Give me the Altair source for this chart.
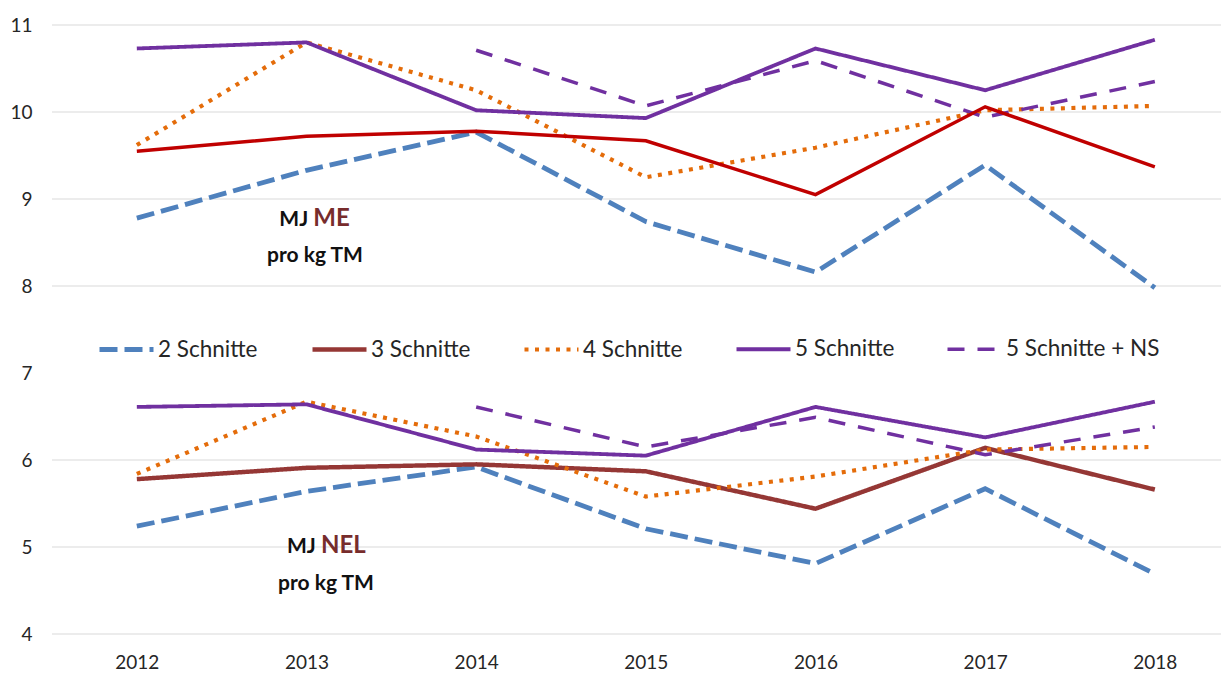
import altair as alt
import pandas as pd

years = [2012, 2013, 2014, 2015, 2016, 2017, 2018]
series_names = ["2 Schnitte", "3 Schnitte", "4 Schnitte", "5 Schnitte", "5 Schnitte + NS"]

# MJ ME pro kg TM
me_2 = [8.78, 9.33, 9.77, 8.74, 8.16, 9.39, 7.98]
me_3 = [9.55, 9.72, 9.78, 9.67, 9.05, 10.06, 9.37]
me_4 = [9.62, 10.80, 10.25, 9.25, 9.59, 10.02, 10.07]
me_5 = [10.73, 10.80, 10.02, 9.93, 10.73, 10.25, 10.83]
me_5ns = [None, None, 10.71, 10.07, 10.59, 9.94, 10.35]

# MJ NEL pro kg TM
nel_2 = [5.24, 5.64, 5.92, 5.21, 4.81, 5.67, 4.69]
nel_3 = [5.78, 5.91, 5.95, 5.87, 5.44, 6.14, 5.66]
nel_4 = [5.84, 6.67, 6.27, 5.58, 5.81, 6.12, 6.15]
nel_5 = [6.61, 6.64, 6.12, 6.05, 6.61, 6.26, 6.67]
nel_5ns = [None, None, 6.61, 6.15, 6.49, 6.06, 6.38]

y_ticks = [4, 5, 6, 7, 8, 9, 10, 11]
grid_values = [4, 5, 6, 8, 9, 10, 11]

series_colors = ["#4F81BD", "#953735", "#E46C0A", "#7030A0", "#7030A0"]
series_dashes = [[18, 7], [1, 0], [4, 6.5], [1, 0], [17, 13]]
series_widths = [4.8, 3.5, 4.2, 3.5, 3.8]
me3_color = "#C00000"

ann_text = ["MJ", "ME", "pro kg TM", "MJ", "NEL", "pro kg TM"]
ann_x = [2013.01, 2013.04, 2013.05, 2013.055, 2013.085, 2013.115]
ann_y = [8.69, 8.69, 8.28, 4.93, 4.93, 4.51]
ann_kind = ["mj", "unit", "pro", "mj", "unit", "pro"]

rows = []
for panel, lists in (("ME", [me_2, me_3, me_4, me_5, me_5ns]),
                     ("NEL", [nel_2, nel_3, nel_4, nel_5, nel_5ns])):
    for name, vals in zip(series_names, lists):
        for yr, v in zip(years, vals):
            if v is not None:
                rows.append({"year": yr, "value": v, "series": name, "panel": panel})
df = pd.DataFrame(rows)
main_df = df[~((df.panel == "ME") & (df.series == "3 Schnitte"))]
red_df = df[(df.panel == "ME") & (df.series == "3 Schnitte")]

ann = pd.DataFrame({"year": ann_x, "value": ann_y, "text": ann_text, "kind": ann_kind})
grid_df = pd.DataFrame({"value": grid_values})

FONT = "Lato"
x_enc = alt.X("year:Q", title=None,
              scale=alt.Scale(domain=[2011.5, 2018.39], nice=False, zero=False),
              axis=alt.Axis(values=years, format="d", grid=False, domain=False, ticks=False,
                            labelFont=FONT, labelFontSize=19, labelColor="#262626",
                            labelPadding=19))
y_enc = alt.Y("value:Q", title=None,
              scale=alt.Scale(domain=[4, 11], nice=False, zero=False),
              axis=alt.Axis(values=y_ticks, grid=False, domain=False, ticks=False,
                            labelFont=FONT, labelFontSize=19, labelColor="#262626",
                            labelPadding=20))

leg = alt.Legend(title=None, orient="none", legendX=45, legendY=295,
                 direction="horizontal", columns=5, columnPadding=45,
                 symbolType="stroke", symbolSize=2916, symbolStrokeWidth=4.5,
                 labelFont=FONT, labelFontSize=22.5, labelOffset=2,
                 labelColor="#262626", labelLimit=400, padding=0)

grid = alt.Chart(grid_df).mark_rule(color="#D9D9D9", strokeWidth=1).encode(y=y_enc)

lines = alt.Chart(main_df).mark_line(strokeCap="butt", strokeJoin="miter").encode(
    x=x_enc, y=y_enc,
    color=alt.Color("series:N", scale=alt.Scale(domain=series_names, range=series_colors), legend=leg),
    strokeDash=alt.StrokeDash("series:N", scale=alt.Scale(domain=series_names, range=series_dashes), legend=leg),
    strokeWidth=alt.StrokeWidth("series:N", scale=alt.Scale(domain=series_names, range=series_widths), legend=None),
    detail="panel:N",
    order="year:Q",
)

red_line = alt.Chart(red_df).mark_line(color=me3_color, strokeWidth=3.5, strokeJoin="miter").encode(
    x=x_enc, y=y_enc, order="year:Q"
)

mj = alt.Chart(ann[ann.kind == "mj"]).mark_text(
    font=FONT, fontWeight="bold", fontSize=21, color="#111111", align="right", baseline="alphabetic"
).encode(x=x_enc, y=y_enc, text="text:N")
unit = alt.Chart(ann[ann.kind == "unit"]).mark_text(
    font=FONT, fontSize=24, color="#772C2C", align="left", baseline="alphabetic", fontWeight="bold"
).encode(x=x_enc, y=y_enc, text="text:N")
pro = alt.Chart(ann[ann.kind == "pro"]).mark_text(
    font=FONT, fontWeight="bold", fontSize=21, color="#111111", align="center", baseline="alphabetic"
).encode(x=x_enc, y=y_enc, text="text:N")

chart = alt.layer(grid, lines, red_line, mj, unit, pro).properties(
    width=1169, height=609,
    padding={"left": 44, "top": 17, "right": 0, "bottom": 41},
    autosize=alt.AutoSizeParams(type="none"),
).configure_view(stroke=None)

chart.save("out.html", embed_options={"renderer": "svg", "actions": False})
